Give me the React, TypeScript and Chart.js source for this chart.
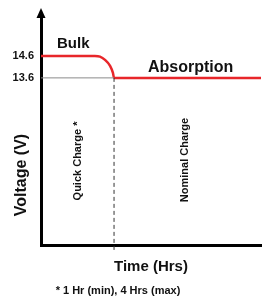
import React, { useEffect, useRef } from "react";
import { Chart, registerables } from "chart.js";

Chart.register(...registerables);

// Data
const bulkX = [0, 2.45, 2.68, 2.91, 3.14, 3.27, 3.32, 10];
const bulkY = [14.6, 14.6, 14.57, 14.42, 14.15, 13.83, 13.6, 13.6];
const refX = [0, 3.32];
const refY = [13.6, 13.6];
const dividerX = [3.32, 3.32];
const dividerY = [13.6, 5.7];
const yTickValues = [13.6, 14.6];
const yRange = [6, 16.46];
const xRange = [0, 10];

const labels = {
  bulk: "Bulk",
  absorption: "Absorption",
  quick: "Quick Charge *",
  nominal: "Nominal Charge",
  yTitle: "Voltage (V)",
  xTitle: "Time (Hrs)",
  note: "* 1 Hr (min), 4 Hrs (max)",
};

const FONT = "'Liberation Sans', Arial, Helvetica, sans-serif";

const textPlugin = {
  id: "annotText",
  afterDraw(chart: any) {
    const ctx = chart.ctx as CanvasRenderingContext2D;
    const area = chart.chartArea;
    ctx.save();
    // arrow on y axis
    ctx.fillStyle = "#000";
    ctx.beginPath();
    ctx.moveTo(area.left, area.top - 7);
    ctx.lineTo(area.left - 4.5, area.top + 3);
    ctx.lineTo(area.left + 4.5, area.top + 3);
    ctx.closePath();
    ctx.fill();

    ctx.fillStyle = "#111";
    ctx.textBaseline = "alphabetic";
    ctx.font = `bold 15px ${FONT}`;
    ctx.textAlign = "left";
    ctx.fillText(labels.bulk, 57, 48);
    ctx.font = `bold 16px ${FONT}`;
    ctx.fillText(labels.absorption, 148, 72);

    ctx.font = `bold 11px ${FONT}`;
    ctx.textAlign = "center";
    ctx.fillText(labels.note, 118, 294);

    const vert = (txt: string, x: number, y: number, font: string) => {
      ctx.save();
      ctx.translate(x, y);
      ctx.rotate(-Math.PI / 2);
      ctx.font = font;
      ctx.textAlign = "center";
      ctx.textBaseline = "middle";
      ctx.fillText(txt, 0, 0);
      ctx.restore();
    };
    vert(labels.quick, 78, 161, `bold 11px ${FONT}`);
    vert(labels.nominal, 185, 160, `bold 11px ${FONT}`);
    vert(labels.yTitle, 21.5, 175, `bold 16px ${FONT}`);
    ctx.restore();
  },
};

export default function App() {
  const ref = useRef<HTMLCanvasElement | null>(null);
  useEffect(() => {
    if (!ref.current) return;
    const toPts = (xs: number[], ys: number[]) => xs.map((x, i) => ({ x, y: ys[i] }));
    const chart = new Chart(ref.current, {
      type: "line",
      data: {
        datasets: [
          {
            data: toPts(refX, refY),
            borderColor: "#8a8a8a",
            borderWidth: 1,
            pointRadius: 0,
          },
          {
            data: toPts(dividerX, dividerY),
            borderColor: "#333",
            borderWidth: 1,
            borderDash: [4, 3],
            pointRadius: 0,
            clip: false as any,
          },
          {
            data: toPts(bulkX, bulkY),
            borderColor: "#e8262a",
            borderWidth: 2.5,
            pointRadius: 0,
            cubicInterpolationMode: "monotone",
          },
        ],
      },
      options: {
        responsive: false,
        animation: false,
        layout: { padding: { top: 15, right: 5, bottom: 0, left: 0 } },
        plugins: { legend: { display: false }, tooltip: { enabled: false } },
        scales: {
          x: {
            type: "linear",
            min: xRange[0],
            max: xRange[1],
            grid: { display: false },
            border: { display: true, color: "#000", width: 3 },
            ticks: { display: false },
            title: {
              display: true,
              text: labels.xTitle,
              color: "#111",
              font: { family: FONT, size: 15, weight: "bold" },
              padding: { top: 0, bottom: 30 },
            },
            afterFit(scale: any) {
              scale.height = 61;
            },
          },
          y: {
            type: "linear",
            min: yRange[0],
            max: yRange[1],
            grid: { display: false, drawTicks: false },
            border: { display: true, color: "#000", width: 3 },
            afterBuildTicks(scale: any) {
              scale.ticks = yTickValues.map((v) => ({ value: v }));
            },
            ticks: {
              color: "#111",
              padding: 7,
              font: { family: FONT, size: 11, weight: "bold" },
              callback: (v: any) => Number(v).toFixed(1),
            },
            afterFit(scale: any) {
              scale.width = 41;
            },
          },
        },
      },
      plugins: [textPlugin],
    });
    return () => chart.destroy();
  }, []);
  return (
    <div style={{ position: "absolute", left: 0, top: 0, width: 266, height: 306, background: "#fff" }}>
      <canvas ref={ref} width={266} height={306} />
    </div>
  );
}
